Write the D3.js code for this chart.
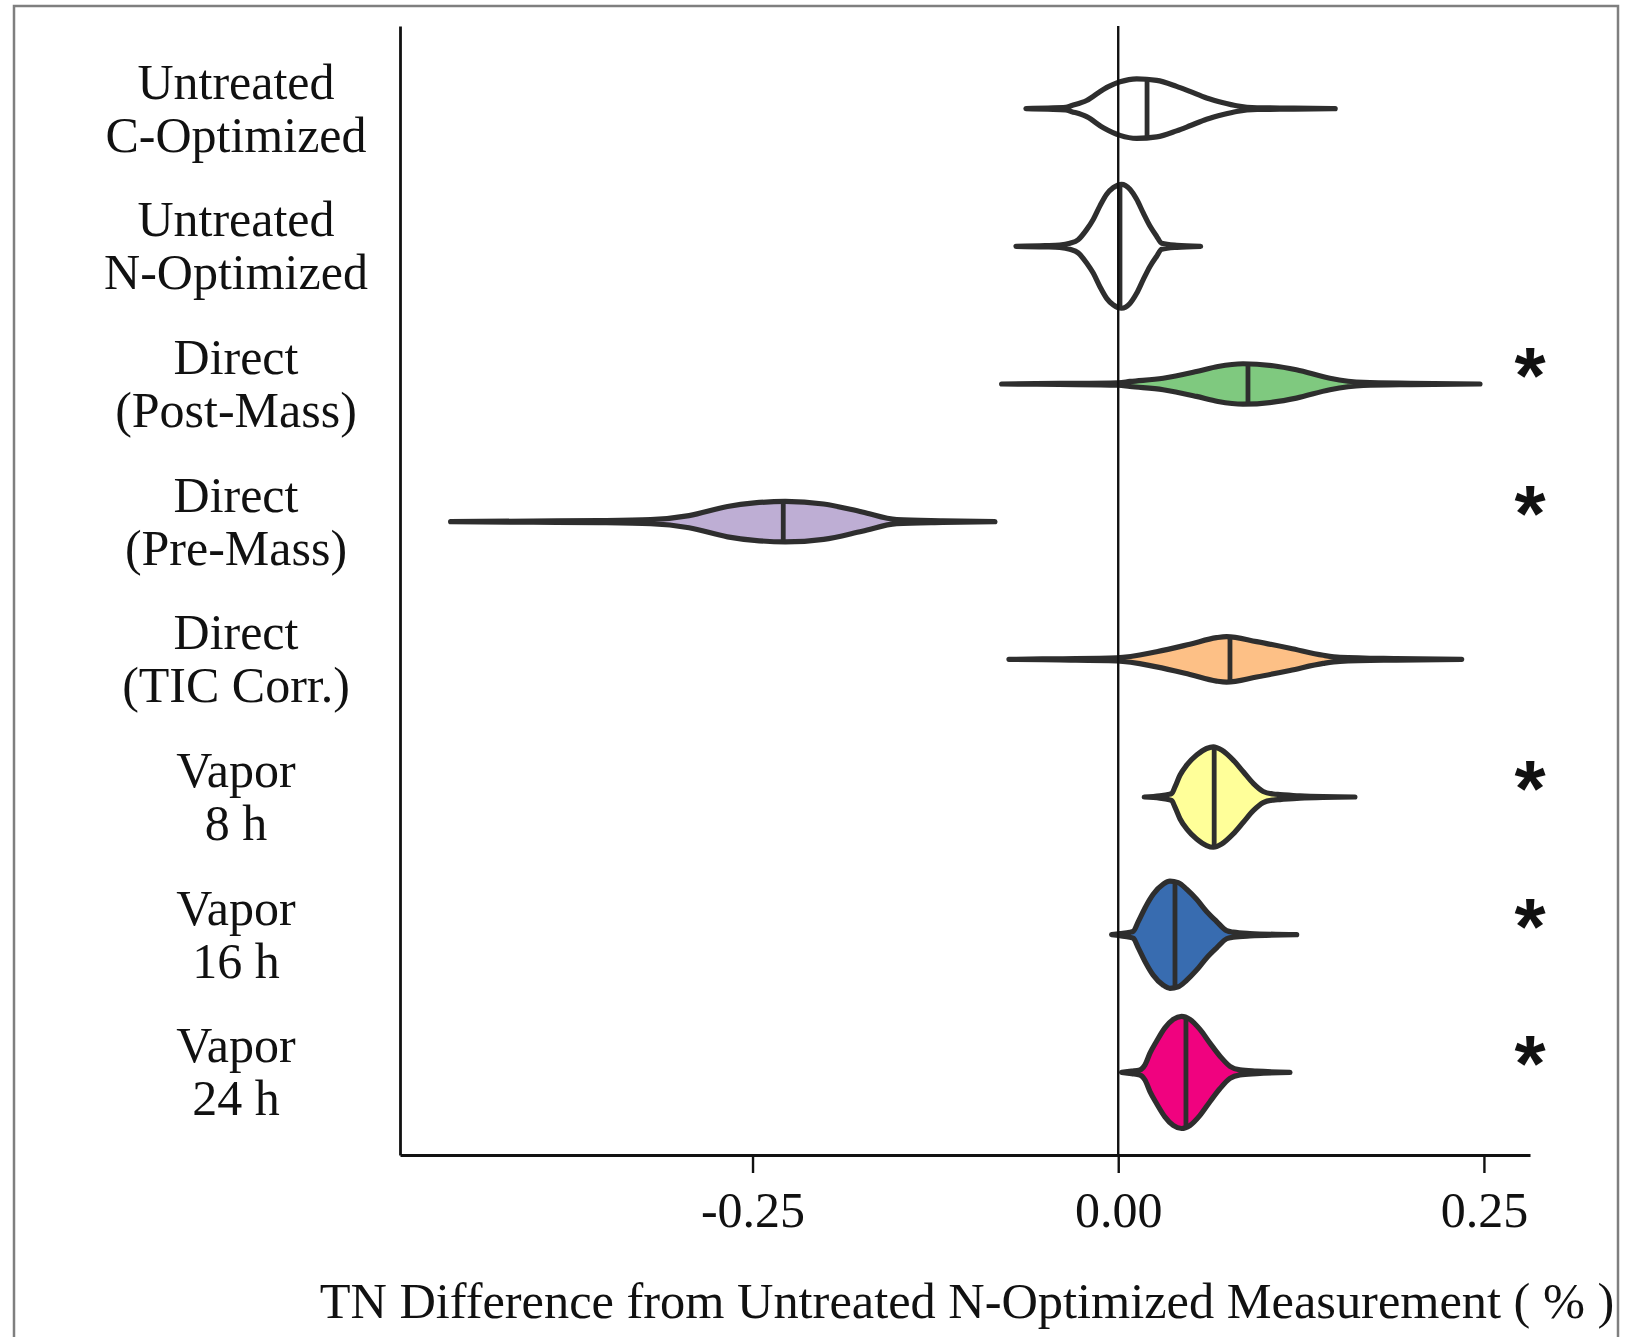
<!DOCTYPE html>
<html>
<head>
<meta charset="utf-8">
<script src="https://cdn.jsdelivr.net/npm/d3@7"></script>
<style>
  html, body { margin: 0; padding: 0; background: #ffffff; }
  svg { display: block; }
</style>
</head>
<body>
<svg id="chart" width="1634" height="1337"></svg>
<script>
// ---- data -------------------------------------------------------------
const groups = [
  "Untreated C-Optimized", "Untreated N-Optimized", "Direct (Post-Mass)",
  "Direct (Pre-Mass)", "Direct (TIC Corr.)", "Vapor 8 h", "Vapor 16 h", "Vapor 24 h"
];
const groupLabels = [
  ["Untreated", "C-Optimized"], ["Untreated", "N-Optimized"], ["Direct", "(Post-Mass)"],
  ["Direct", "(Pre-Mass)"], ["Direct", "(TIC Corr.)"], ["Vapor", "8 h"],
  ["Vapor", "16 h"], ["Vapor", "24 h"]
];
const fillColors = ["#ffffff", "#ffffff", "#7fc97f", "#beaed4", "#fdc086", "#ffff99", "#386cb0", "#f0027f"];
const medians = [0.0197, 0.0012, 0.0887, -0.2290, 0.0764, 0.0656, 0.0388, 0.0463];
const significant = [false, false, true, true, false, true, true, true];

// kernel density profiles: [TN difference (%), density]
const densityCOpt = [[-0.0631,0],[-0.048,0.3],[-0.036,0.6],[-0.0317,1.5],[-0.0216,4],[-0.0102,9.5],[0.0012,13.25],[0.0126,14.75],[0.0263,14],[0.0399,11],[0.0490,8.5],[0.0604,5.25],[0.0718,2.9],[0.0809,1.4],[0.095,0.4],[0.12,0.25],[0.1483,0]];
const densityNOpt = [[-0.0699,0],[-0.05,0.3],[-0.040,0.6],[-0.033,1.5],[-0.0274,3.25],[-0.0216,8.25],[-0.0171,13.25],[-0.0125,20],[-0.0079,25.75],[-0.0034,29],[0.0023,30.65],[0.0080,28.25],[0.0126,23.25],[0.0171,16.5],[0.0217,10],[0.0262,5],[0.0297,1.5],[0.040,0.5],[0.0563,0]];
const densityPost = [[-0.0797,0],[-0.04,0.25],[0.0,0.6],[0.008,1.25],[0.0307,2.85],[0.0535,6.15],[0.0682,8.65],[0.0853,10],[0.1058,9],[0.1218,7],[0.1447,2.85],[0.1676,0.75],[0.20,0.3],[0.2473,0]];
const densityPre = [[-0.4564,0],[-0.40,0.3],[-0.355,0.5],[-0.3196,1],[-0.2934,3],[-0.2671,7.5],[-0.2487,9.25],[-0.2276,10],[-0.2014,8.75],[-0.1750,4.75],[-0.1514,1],[-0.120,0.4],[-0.0843,0]];
const densityTIC = [[-0.0747,0],[-0.04,0.3],[-0.0011,0.75],[0.0262,3.75],[0.0490,7.5],[0.0672,10.75],[0.0741,11.25],[0.0946,8.75],[0.1174,5.5],[0.1402,2],[0.1516,1],[0.19,0.35],[0.2348,0]];
const densityV8 = [[0.0178,0],[0.0285,0.6],[0.0342,1.25],[0.0365,1.75],[0.0388,5],[0.0422,10.75],[0.0468,15.75],[0.0536,20.75],[0.0604,24],[0.0650,24.85],[0.0707,23.25],[0.0786,18.25],[0.0855,12.5],[0.0923,6.75],[0.0991,2.75],[0.1060,1.5],[0.1106,1.25],[0.1242,0.6],[0.1618,0]];
const densityV16 = [[-0.0045,0],[0.0012,0.5],[0.0080,1.25],[0.0103,1.75],[0.0137,6.5],[0.0183,13.25],[0.0239,20],[0.0308,25],[0.0353,26.5],[0.0410,25.75],[0.0468,22.5],[0.0536,17.5],[0.0604,11.5],[0.0673,6.5],[0.0741,2],[0.0786,1.25],[0.0900,0.6],[0.1220,0]];
const densityV24 = [[0.0023,0],[0.0092,0.6],[0.0148,1.25],[0.0183,3.75],[0.0217,9.5],[0.0263,15.5],[0.0319,22],[0.0376,26.25],[0.0433,27.75],[0.0490,26.25],[0.0559,21.25],[0.0627,14.5],[0.0696,8],[0.0764,3],[0.0832,1.25],[0.0946,0.6],[0.1174,0]];
const densities = [densityCOpt, densityNOpt, densityPost, densityPre, densityTIC, densityV8, densityV16, densityV24];

const xTicks = [-0.25, 0, 0.25];
const xLimits = [-0.491, 0.2815];
const referenceValue = 0;
const xTitle = "TN Difference from Untreated N-Optimized Measurement ( % )";

// ---- layout -------------------------------------------------------------
const svg = d3.select("#chart");
const plot = { left: 400, right: 1530, top: 26, bottom: 1155 };
const serif = "'Liberation Serif', 'Times New Roman', serif";
const ink = "#2e2e2e";

// outer frame
svg.append("rect")
  .attr("x", 14).attr("y", 6)
  .attr("width", 1604).attr("height", 1400)
  .attr("fill", "none").attr("stroke", "#7f7f7f").attr("stroke-width", 2.5);

const x = d3.scaleLinear().domain(xLimits).range([plot.left, plot.right]);
const y = d3.scalePoint().domain(groups).range([plot.top, plot.bottom]).padding(0.6);
const maxDensity = d3.max(densities, d => d3.max(d, p => p[1]));
const w = d3.scaleLinear().domain([0, maxDensity]).range([0, y.step() * 0.45]);

// violins
const violins = svg.append("g").attr("class", "violins");
groups.forEach((g, i) => {
  const cy = y(g);
  const prof = densities[i];
  const area = d3.area()
    .x(p => x(p[0]))
    .y0(p => cy - w(p[1]))
    .y1(p => cy + w(p[1]))
    .curve(d3.curveMonotoneX);
  violins.append("path")
    .attr("d", area(prof))
    .attr("fill", fillColors[i])
    .attr("stroke", ink)
    .attr("stroke-width", 5.2)
    .attr("stroke-linejoin", "round");

  // median line spanning the violin at its median
  const m = medians[i];
  const k = d3.bisector(p => p[0]).right(prof, m);
  const a = prof[Math.max(0, k - 1)], b = prof[Math.min(prof.length - 1, k)];
  const t = b[0] === a[0] ? 0 : (m - a[0]) / (b[0] - a[0]);
  const dm = a[1] + t * (b[1] - a[1]);
  violins.append("line")
    .attr("x1", x(m)).attr("x2", x(m))
    .attr("y1", cy - w(dm)).attr("y2", cy + w(dm))
    .attr("stroke", ink).attr("stroke-width", 4.8);
});

// reference line at zero difference
svg.append("line")
  .attr("x1", x(referenceValue)).attr("x2", x(referenceValue))
  .attr("y1", plot.top).attr("y2", plot.bottom)
  .attr("stroke", "#111").attr("stroke-width", 2.4);

// x axis
const fmt = d => d3.format(".2f")(d).replace("\u2212", "-");
const xAxis = svg.append("g")
  .attr("transform", `translate(0,${plot.bottom})`)
  .call(d3.axisBottom(x).tickValues(xTicks).tickFormat(fmt).tickSize(18).tickSizeOuter(0).tickPadding(18));
xAxis.select(".domain").attr("stroke", "#111").attr("stroke-width", 2.8);
xAxis.selectAll(".tick line").attr("stroke", "#111").attr("stroke-width", 2.4);
xAxis.selectAll(".tick text")
  .attr("font-family", serif).attr("font-size", 50).attr("fill", "#111");

// y axis (line only; labels are two-line text)
const yAxis = svg.append("g")
  .attr("transform", `translate(${plot.left},0)`)
  .call(d3.axisLeft(y).tickSize(0).tickSizeOuter(0).tickFormat(""));
yAxis.select(".domain").attr("stroke", "#111").attr("stroke-width", 2.8);

const labels = svg.append("g")
  .attr("font-family", serif).attr("font-size", 50).attr("fill", "#111")
  .attr("text-anchor", "middle");
groups.forEach((g, i) => {
  const cy = y(g);
  const txt = labels.append("text").attr("x", 236);
  txt.append("tspan").attr("x", 236).attr("y", cy - 10).text(groupLabels[i][0]);
  txt.append("tspan").attr("x", 236).attr("y", cy + 43).text(groupLabels[i][1]);
});

// significance markers
svg.append("g")
  .selectAll("text")
  .data(groups.filter((g, i) => significant[i]))
  .join("text")
  .attr("x", 1530)
  .attr("y", g => y(g) + 19)
  .attr("text-anchor", "middle")
  .attr("font-family", "'Liberation Sans', Arial, sans-serif")
  .attr("font-weight", "bold")
  .attr("font-size", 80)
  .attr("fill", "#111")
  .text("*");

// x axis title
svg.append("text")
  .attr("x", 967).attr("y", 1318)
  .attr("text-anchor", "middle")
  .attr("font-family", serif).attr("font-size", 50.4).attr("fill", "#111")
  .text(xTitle);
</script>
</body>
</html>
